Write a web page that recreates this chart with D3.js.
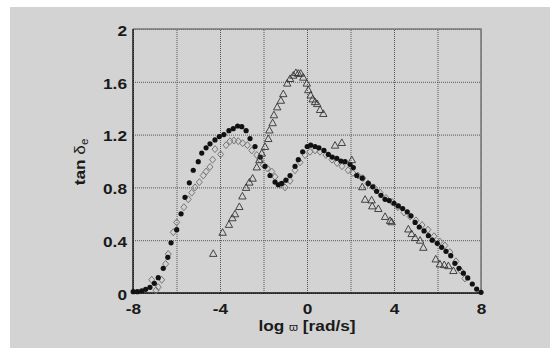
<!DOCTYPE html>
<html>
<head>
<meta charset="utf-8">
<script src="https://d3js.org/d3.v7.min.js"></script>
<style>
body { margin: 0; background: #fff; }
svg { display: block; }
.axis text { font: bold 15px "Liberation Sans", Arial, sans-serif; fill: #1a1a1a; }
.axis .domain { display: none; }
.axis line { stroke: #555; stroke-dasharray: 1,1; }
.label { font: bold 15px "Liberation Sans", Arial, sans-serif; fill: #1a1a1a; }
</style>
</head>
<body>
<svg width="550" height="348"></svg>
<script>

// log w [rad/s], tan delta_e
var circles = [
  [-7.99,0.01],[-7.80,0.01],[-7.60,0.017],[-7.42,0.028],[-7.22,0.043],[-7.02,0.073],
  [-6.84,0.116],[-6.61,0.187],[-6.40,0.27],[-6.25,0.38],[-5.99,0.48],[-5.79,0.60],
  [-5.61,0.725],[-5.41,0.835],[-5.23,0.93],[-5.00,0.995],[-4.84,1.06],[-4.64,1.10],
  [-4.46,1.13],[-4.23,1.16],[-4.03,1.185],[-3.82,1.20],[-3.59,1.23],[-3.39,1.245],
  [-3.19,1.265],[-3.00,1.26],[-2.80,1.23],[-2.62,1.17],[-2.39,1.11],[-2.15,1.03],
  [-1.93,0.96],[-1.70,0.89],[-1.47,0.84],[-1.32,0.82],[-1.16,0.83],[-0.97,0.855],
  [-0.78,0.89],[-0.55,0.96],[-0.40,1.01],[-0.20,1.07],[0.01,1.11],[0.17,1.12],
  [0.37,1.11],[0.55,1.10],[0.78,1.08],[0.98,1.05],[1.16,1.03],[1.37,1.02],
  [1.56,1.00],[1.75,0.995],[1.98,0.975],[2.13,0.95],[2.29,0.89],[2.54,0.87],
  [2.82,0.83],[3.02,0.805],[3.20,0.77],[3.40,0.74],[3.59,0.71],[3.78,0.70],
  [4.00,0.68],[4.20,0.66],[4.40,0.64],[4.61,0.615],[4.78,0.585],[4.97,0.535],
  [5.16,0.50],[5.38,0.47],[5.58,0.434],[5.76,0.40],[5.99,0.376],[6.19,0.346],
  [6.39,0.316],[6.61,0.283],[6.80,0.225],[6.99,0.187],[7.19,0.15],[7.39,0.114],
  [7.60,0.068],[7.80,0.03],[8.00,0.005]
];

var diamonds = [
  [-6.94,0.02],[-7.14,0.10],[-6.68,0.10],[-6.84,0.045],[-6.50,0.22],[-6.38,0.295],
  [-6.15,0.46],[-5.99,0.535],[-5.66,0.65],[-5.46,0.71],[-5.30,0.76],[-5.15,0.80],
  [-4.95,0.84],[-4.77,0.89],[-4.64,0.92],[-4.46,0.955],[-4.34,1.01],[-4.23,1.09],
  [-3.97,1.05],[-3.72,1.12],[-3.54,1.15],[-3.36,1.155],[-3.16,1.15],[-2.96,1.135],
  [-2.74,1.12],[-2.54,1.08],[-2.31,1.045],[-2.16,1.01],[-2.01,0.97],[-1.83,0.945],
  [-1.62,0.92],[-1.47,0.88],[-1.24,0.82],[-1.01,0.80],[-0.78,0.85],[-0.55,0.93],
  [-0.32,0.99],[-0.09,1.045],[0.14,1.07],[0.37,1.08],[0.60,1.07],[0.87,1.045],
  [1.15,1.01],[1.38,0.985],[1.61,0.96],[1.89,0.93],[2.11,0.91],[2.34,0.89],
  [2.57,0.87],[2.80,0.83],[3.08,0.80],[3.36,0.76],[3.63,0.72],[3.91,0.69],
  [4.18,0.65],[4.46,0.61],[4.74,0.58],[5.01,0.55],[5.29,0.515],[5.56,0.48],
  [5.84,0.43],[6.11,0.39],[6.34,0.36],[6.57,0.31],[6.85,0.24],[7.06,0.17],[7.26,0.11]
];

var triangles = [
  [-4.31,0.30],[-3.88,0.46],[-3.59,0.52],[-3.43,0.57],[-3.31,0.60],[-3.11,0.655],
  [-2.97,0.735],[-2.80,0.80],[-2.65,0.84],[-2.50,0.87],[-2.31,0.955],[-2.19,1.01],
  [-2.08,1.06],[-1.93,1.11],[-1.78,1.17],[-1.73,1.235],[-1.58,1.29],[-1.52,1.35],
  [-1.37,1.41],[-1.20,1.46],[-1.09,1.51],[-0.91,1.59],[-0.78,1.625],[-0.63,1.65],
  [-0.51,1.67],[-0.40,1.665],[-0.29,1.665],[-0.17,1.635],[-0.01,1.59],[0.06,1.54],
  [0.17,1.50],[0.26,1.47],[0.37,1.45],[0.47,1.435],[0.60,1.39],[0.75,1.36],
  [1.29,1.12],[1.60,1.14],[2.06,1.01],[2.54,0.805],[2.67,0.71],[2.97,0.705],
  [3.00,0.66],[3.28,0.64],[3.59,0.58],[3.82,0.55],[3.89,0.54],[4.66,0.485],
  [4.81,0.45],[4.97,0.42],[5.20,0.40],[5.35,0.346],[5.92,0.258],[6.11,0.22],
  [6.31,0.215],[6.50,0.207],[6.73,0.17]
];

var xGrid = [-8, -6, -4, -2, 0, 2, 4, 6, 8];
var xLabels = [-8, -4, 0, 4, 8];
var yTicks = [0, 0.4, 0.8, 1.2, 1.6, 2];

var svg = d3.select("svg");
var plot = {left: 133, right: 481, top: 29, bottom: 293};
var sx = 1.15; // text in the original is a little wide

svg.append("rect")
    .attr("x", 10).attr("y", 7)
    .attr("width", 540).attr("height", 341)
    .attr("fill", "#d3d3d3");

var x = d3.scaleLinear().domain([-8, 8]).range([plot.left, plot.right]);
var y = d3.scaleLinear().domain([0, 2]).range([plot.bottom, plot.top]);

var gx = svg.append("g")
    .attr("class", "axis")
    .attr("transform", "translate(0," + plot.bottom + ")")
    .call(d3.axisBottom(x)
      .tickValues(xGrid)
      .tickSize(-(plot.bottom - plot.top))
      .tickPadding(10)
      .tickFormat(function(d) { return xLabels.indexOf(d) >= 0 ? d : ""; }));
gx.selectAll("text")
    .attr("transform", "scale(" + sx + ",1)");

var gy = svg.append("g")
    .attr("class", "axis")
    .attr("transform", "translate(" + plot.left + ",0)")
    .call(d3.axisLeft(y)
      .tickValues(yTicks)
      .tickSize(-(plot.right - plot.left))
      .tickPadding(6)
      .tickFormat(function(d) { return d; }));
gy.selectAll("text")
    .attr("transform", "scale(" + sx + ",1)")
    .attr("x", -6 / sx)
    .attr("dy", "0.42em");

// frame: grey top/right, black left/bottom
svg.append("path")
    .attr("d", "M" + plot.left + "," + plot.top + "H" + plot.right + "V" + plot.bottom)
    .attr("fill", "none").attr("stroke", "#7a7a7a").attr("stroke-width", 1.6);
svg.append("path")
    .attr("d", "M" + plot.left + "," + plot.top + "V" + plot.bottom + "H" + plot.right)
    .attr("fill", "none").attr("stroke", "#111").attr("stroke-width", 1.4);

svg.append("g").selectAll("path")
    .data(diamonds)
  .enter().append("path")
    .attr("transform", function(d) { return "translate(" + x(d[0]) + "," + y(d[1]) + ")"; })
    .attr("d", "M0,-3.5L3,0L0,3.5L-3,0Z")
    .attr("fill", "none")
    .attr("stroke", "#777")
    .attr("stroke-width", 1);

svg.append("g").selectAll("circle")
    .data(circles)
  .enter().append("circle")
    .attr("cx", function(d) { return x(d[0]); })
    .attr("cy", function(d) { return y(d[1]); })
    .attr("r", 2.6)
    .attr("fill", "#111");

svg.append("g").selectAll("path")
    .data(triangles)
  .enter().append("path")
    .attr("transform", function(d) { return "translate(" + x(d[0]) + "," + y(d[1]) + ")"; })
    .attr("d", "M0,-3.6L3.7,3L-3.7,3Z")
    .attr("fill", "none")
    .attr("stroke", "#333")
    .attr("stroke-width", 0.9);

// axis titles
var xt = svg.append("text")
    .attr("class", "label")
    .attr("text-anchor", "middle")
    .attr("transform", "translate(" + ((plot.left + plot.right) / 2) + ",331) scale(" + sx + ",1)");
xt.append("tspan").text("log ");
xt.append("tspan").attr("font-size", "10px").attr("font-weight", "normal").text("ϖ");
xt.append("tspan").text(" [rad/s]");

var yt = svg.append("text")
    .attr("class", "label")
    .attr("text-anchor", "middle")
    .attr("transform", "translate(85,162) rotate(-90) scale(" + sx + ",1)");
yt.append("tspan").text("tan ");
yt.append("tspan").attr("font-weight", "normal").text("δ");
yt.append("tspan").attr("font-size", "10px").attr("font-weight", "normal").attr("dy", 3).text("e");

</script>
</body>
</html>
